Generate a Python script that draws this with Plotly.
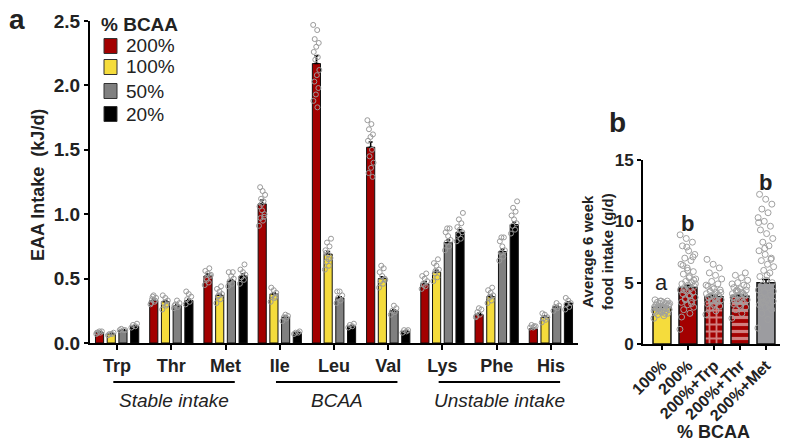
import plotly.graph_objects as go

# ---------------- data ----------------
amino_acids = ["Trp", "Thr", "Met", "Ile", "Leu", "Val", "Lys", "Phe", "His"]
series_names = ["200%", "100%", "50%", "20%"]
series_colors = ["#A30000", "#F5DC3C", "#808080", "#000000"]

mean_200 = [0.08, 0.33, 0.52, 1.08, 2.17, 1.52, 0.46, 0.22, 0.11]
mean_100 = [0.07, 0.32, 0.37, 0.38, 0.69, 0.50, 0.55, 0.36, 0.20]
mean_50 = [0.10, 0.29, 0.48, 0.20, 0.35, 0.25, 0.78, 0.71, 0.28]
mean_20 = [0.13, 0.33, 0.52, 0.08, 0.13, 0.09, 0.86, 0.92, 0.31]

sem_200 = [0.005, 0.01, 0.015, 0.03, 0.06, 0.04, 0.015, 0.01, 0.005]
sem_100 = [0.005, 0.01, 0.01, 0.01, 0.02, 0.015, 0.015, 0.01, 0.01]
sem_50 = [0.003, 0.008, 0.01, 0.008, 0.01, 0.008, 0.02, 0.02, 0.008]
sem_20 = [0.005, 0.01, 0.015, 0.003, 0.005, 0.003, 0.02, 0.02, 0.01]

pts_200 = [
    [0.07, 0.08, 0.08, 0.09, 0.09, 0.08],
    [0.30, 0.32, 0.34, 0.35, 0.37, 0.31, 0.33, 0.36],
    [0.45, 0.47, 0.50, 0.52, 0.54, 0.56, 0.58, 0.49, 0.53],
    [0.91, 0.95, 0.97, 1.00, 1.03, 1.06, 1.10, 1.12, 1.15, 1.18, 1.21, 0.98, 1.08],
    [2.47, 2.43, 2.36, 2.33, 2.30, 2.26, 2.22, 2.20, 2.12, 2.08, 2.03, 1.98, 1.93, 1.88, 1.83],
    [1.73, 1.70, 1.66, 1.62, 1.60, 1.57, 1.50, 1.45, 1.40, 1.36, 1.32, 1.29],
    [0.42, 0.44, 0.46, 0.48, 0.50, 0.52, 0.54, 0.45],
    [0.20, 0.22, 0.24, 0.26, 0.27, 0.21],
    [0.12, 0.13, 0.14, 0.13, 0.12],
]
pts_100 = [
    [0.06, 0.07, 0.07, 0.08],
    [0.26, 0.29, 0.31, 0.33, 0.35, 0.37, 0.30],
    [0.31, 0.34, 0.36, 0.38, 0.40, 0.42, 0.44, 0.37],
    [0.32, 0.35, 0.37, 0.39, 0.41, 0.43, 0.36],
    [0.57, 0.60, 0.63, 0.66, 0.69, 0.72, 0.75, 0.78, 0.81, 0.65, 0.70],
    [0.43, 0.46, 0.48, 0.50, 0.52, 0.55, 0.58, 0.60, 0.49],
    [0.48, 0.51, 0.54, 0.57, 0.60, 0.62, 0.65, 0.56],
    [0.31, 0.33, 0.35, 0.37, 0.39, 0.41, 0.43, 0.36],
    [0.16, 0.18, 0.19, 0.20, 0.22, 0.23],
]
pts_50 = [
    [0.10, 0.10, 0.11, 0.10],
    [0.27, 0.28, 0.30, 0.31, 0.33, 0.29],
    [0.44, 0.46, 0.48, 0.50, 0.52, 0.55, 0.55],
    [0.17, 0.19, 0.20, 0.21, 0.22],
    [0.31, 0.33, 0.35, 0.37, 0.40, 0.40],
    [0.22, 0.24, 0.25, 0.27, 0.29],
    [0.72, 0.75, 0.78, 0.80, 0.83, 0.86, 0.89, 0.89],
    [0.64, 0.67, 0.70, 0.72, 0.75, 0.79, 0.82, 0.82],
    [0.25, 0.27, 0.28, 0.29, 0.31],
]
pts_20 = [
    [0.12, 0.13, 0.14, 0.15],
    [0.30, 0.32, 0.34, 0.36, 0.38, 0.40],
    [0.46, 0.49, 0.51, 0.53, 0.55, 0.57, 0.61],
    [0.07, 0.08, 0.08, 0.09],
    [0.12, 0.13, 0.14, 0.15],
    [0.08, 0.09, 0.10, 0.10],
    [0.79, 0.81, 0.84, 0.86, 0.88, 0.90, 0.93, 0.96, 1.01],
    [0.85, 0.88, 0.91, 0.93, 0.96, 0.99, 1.02, 1.05, 1.10],
    [0.26, 0.28, 0.30, 0.31, 0.33, 0.35],
]

group_labels = ["Stable intake", "BCAA", "Unstable intake"]
group_spans = [(0, 2), (3, 5), (6, 8)]

diets = ["100%", "200%", "200%+Trp", "200%+Thr", "200%+Met"]
diet_means = [3.0, 4.6, 3.85, 3.9, 5.0]
diet_sem = [0.07, 0.2, 0.12, 0.09, 0.25]
diet_letters = ["a", "b", "", "", "b"]
diet_letter_y = [5.05, 9.85, 0, 0, 13.2]
diet_pts = [
    [2.1, 2.3, 2.4, 2.5, 2.6, 2.6, 2.7, 2.7, 2.8, 2.8, 2.9, 2.9, 3.0, 3.0, 3.0, 3.1, 3.1, 3.1,
     3.2, 3.2, 3.3, 3.3, 3.4, 3.4, 3.5, 3.5, 3.6, 2.5, 2.9, 3.2, 2.8, 3.0, 3.3, 3.5, 2.7],
    [1.2, 2.5, 2.8, 3.0, 3.2, 3.4, 3.5, 3.7, 3.8, 4.0, 4.1, 4.2, 4.3, 4.4, 4.5, 4.6, 4.7, 4.8,
     4.9, 5.0, 5.1, 5.3, 5.5, 5.7, 5.9, 6.2, 6.5, 6.8, 7.0, 7.3, 7.6, 8.0, 8.3, 8.6, 8.9, 3.9,
     4.4, 5.2, 6.0, 2.2, 3.3, 3.6, 4.9, 5.4, 6.4, 7.1, 7.9],
    [2.4, 2.7, 2.9, 3.1, 3.2, 3.3, 3.4, 3.5, 3.6, 3.7, 3.8, 3.9, 4.0, 4.1, 4.2, 4.3, 4.4, 4.5,
     4.7, 4.9, 5.1, 5.3, 5.6, 5.8, 6.2, 6.5, 6.9, 3.6, 3.9, 4.2, 3.3, 3.8, 4.0, 4.6, 4.8],
    [2.1, 2.5, 2.8, 3.0, 3.2, 3.3, 3.4, 3.5, 3.6, 3.7, 3.8, 3.9, 4.0, 4.1, 4.2, 4.3, 4.4, 4.5,
     4.6, 4.8, 5.0, 5.2, 5.4, 5.6, 5.8, 3.5, 3.8, 4.1, 4.4, 4.7, 3.1, 3.6, 4.0, 4.3, 4.9],
    [1.3, 2.0, 2.5, 2.8, 3.0, 3.2, 3.3, 3.4, 3.5, 3.6, 3.8, 4.0, 4.2, 4.4, 4.6, 4.8, 5.0, 5.2,
     5.5, 5.8, 6.0, 6.3, 6.5, 6.8, 7.0, 7.3, 7.6, 8.0, 8.3, 8.6, 9.0, 9.3, 9.6, 10.0, 10.3,
     10.7, 11.0, 11.4, 11.8, 12.2, 3.1, 3.7, 4.3, 5.6, 3.4, 6.9, 7.8, 9.9],
]
diet_colors = ["#F5DC3C", "#A30000", "#A30000", "#A30000", "#9C9CA0"]
diet_patterns = ["", "", "+", "-", ""]

FONT = "Arial, Liberation Sans, sans-serif"
TXT = "#222"

# ---------------- figure ----------------
fig = go.Figure()

means = [mean_200, mean_100, mean_50, mean_20]
sems = [sem_200, sem_100, sem_50, sem_20]
pts = [pts_200, pts_100, pts_50, pts_20]
pitch = 0.216
bw = 0.15
xcat = list(range(len(amino_acids)))

for k in range(4):
    xs = [i + (k - 1.5) * pitch for i in xcat]
    fig.add_trace(go.Bar(
        x=xs, y=means[k], width=bw, name=series_names[k],
        marker=dict(color=series_colors[k], line=dict(color="#111", width=1)),
        error_y=dict(type="data", array=sems[k], arrayminus=[0] * 9, symmetric=False,
                     color="#000", thickness=1.5, width=2),
        xaxis="x", yaxis="y", showlegend=False,
    ))
for k in range(4):
    px, py = [], []
    for i in xcat:
        for j, v in enumerate(pts[k][i]):
            off = (((j * 0.618) % 1.0) - 0.5) * bw * 0.8
            px.append(i + (k - 1.5) * pitch + off)
            py.append(v)
    fig.add_trace(go.Scatter(
        x=px, y=py, mode="markers", showlegend=False, xaxis="x", yaxis="y",
        marker=dict(symbol="circle-open", size=5, color="#9a9a9a", line=dict(width=1)),
    ))

# panel b
fig.add_trace(go.Bar(
    x=list(range(len(diets))), y=diet_means, width=0.69, showlegend=False,
    marker=dict(color=diet_colors, line=dict(color="#111", width=1.5),
                pattern=dict(shape=diet_patterns, fgcolor="white", bgcolor=diet_colors,
                             size=7, solidity=0.45, fillmode="overlay")),
    error_y=dict(type="data", array=diet_sem, arrayminus=[0] * 5, symmetric=False,
                 color="#000", thickness=1.5, width=4),
    xaxis="x2", yaxis="y2",
))
bx, by = [], []
for i, vals in enumerate(diet_pts):
    for j, v in enumerate(vals):
        off = (((j * 0.618) % 1.0) - 0.5) * 0.62
        bx.append(i + off)
        by.append(v)
fig.add_trace(go.Scatter(
    x=bx, y=by, mode="markers", showlegend=False, xaxis="x2", yaxis="y2",
    marker=dict(symbol="circle-open", size=6, color="#a0a0a0", line=dict(width=1)),
))

axis_common = dict(showline=True, linecolor="#000", linewidth=2, ticks="outside",
                   tickcolor="#000", tickwidth=2, showgrid=False, zeroline=False,
                   automargin=False)

fig.update_layout(
    width=800, height=448, margin=dict(l=0, r=0, t=0, b=0, autoexpand=False),
    paper_bgcolor="white", plot_bgcolor="white",
    barmode="overlay", showlegend=False,
    font=dict(family=FONT, color=TXT),
    xaxis=dict(axis_common, domain=[0.1125, 0.7225], range=[-0.5, 8.5],
               tickvals=xcat, ticktext=["<b>%s</b>" % a for a in amino_acids],
               ticklen=5, tickfont=dict(family=FONT, size=18, color=TXT), anchor="y"),
    yaxis=dict(axis_common, domain=[0.2344, 0.953], range=[0, 2.5],
               tickvals=[0, 0.5, 1.0, 1.5, 2.0, 2.5],
               ticktext=["<b>%s</b>" % t for t in ["0.0", "0.5", "1.0", "1.5", "2.0", "2.5"]],
               ticklen=4, tickfont=dict(family=FONT, size=19, color=TXT), anchor="x"),
    xaxis2=dict(axis_common, domain=[0.80375, 0.975], range=[-0.73, 4.54],
                tickvals=list(range(len(diets))),
                ticktext=["<b>%s</b>" % d for d in diets], tickangle=-45, ticklen=4,
                tickfont=dict(family=FONT, size=16, color=TXT), anchor="y2"),
    yaxis2=dict(axis_common, domain=[0.2321, 0.6429], range=[0, 15],
                tickvals=[0, 5, 10, 15], ticktext=["<b>%d</b>" % t for t in [0, 5, 10, 15]],
                ticklen=4, tickfont=dict(family=FONT, size=17, color=TXT), anchor="x2"),
)

W, H = 800.0, 448.0


def pann(text, xp, yp, size, angle=0, xanchor="center"):
    return dict(text=text, x=xp / W, y=1 - yp / H, xref="paper", yref="paper",
                xanchor=xanchor, yanchor="middle", textangle=angle, showarrow=False,
                font=dict(family=FONT, size=size, color=TXT))


annotations = [
    pann("<b>a</b>", 17, 19, 28),
    pann("<b>b</b>", 617, 122, 28),
    pann("<b>EAA Intake&nbsp; (kJ/d)</b>", 38, 185, 18, -90),
    pann("<b>Average 6 week<br>food intake (g/d)</b>", 597, 252, 15, -90),
    pann("<b>% BCAA</b>", 713, 432, 18),
    pann("<b>% BCAA</b>", 99, 24, 19, xanchor="left"),
]
shapes = []
# manual legend
legend_rows = [46, 67, 91, 114]
for name, color, yc in zip(series_names, series_colors, legend_rows):
    shapes.append(dict(type="rect", xref="paper", yref="paper",
                       x0=104 / W, x1=117 / W, y0=1 - (yc - 7.5) / H, y1=1 - (yc + 7.5) / H,
                       fillcolor=color, line=dict(color="#333", width=1)))
    annotations.append(pann(name, 124, yc, 19, xanchor="left"))

for i, letter in enumerate(diet_letters):
    if letter:
        annotations.append(dict(
            text=("<b>%s</b>" % letter) if letter == "b" else letter,
            x=i, y=diet_letter_y[i], xref="x2", yref="y2", showarrow=False,
            xanchor="center", yanchor="middle",
            font=dict(family=FONT, size=22, color=TXT)))

for (a, b), lab in zip(group_spans, group_labels):
    shapes.append(dict(type="line", xref="x", yref="paper", x0=a - 0.07, x1=b + 0.17,
                       y0=1 - 382 / H, y1=1 - 382 / H, line=dict(color="#000", width=2)))
    annotations.append(dict(text="<i>%s</i>" % lab, x=(a + b) / 2 + 0.05, y=1 - 400 / H,
                            xref="x", yref="paper", showarrow=False,
                            xanchor="center", yanchor="middle",
                            font=dict(family=FONT, size=19, color=TXT)))

fig.update_layout(annotations=annotations, shapes=shapes)

fig.write_html("out.html", config={"displayModeBar": False},
               post_script="document.body.style.margin='0';")
